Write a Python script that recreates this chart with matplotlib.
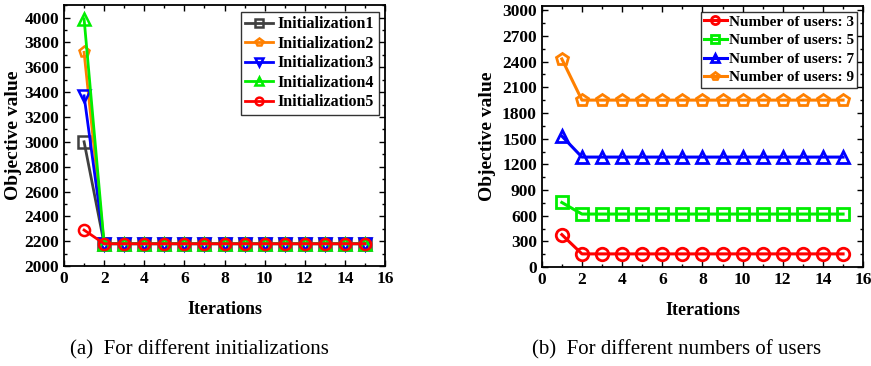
import matplotlib
matplotlib.use("Agg")
import matplotlib.pyplot as plt
from matplotlib.ticker import MultipleLocator

plt.rcParams['font.family'] = ['Liberation Serif', 'DejaVu Serif']

iters = list(range(1, 16))

init1 = [3000] + [2180] * 14
init2 = [3720] + [2180] * 14
init3 = [3370] + [2180] * 14
init4 = [3990] + [2180] * 14
init5 = [2290] + [2180] * 14
init_labels = ["Initialization1", "Initialization2", "Initialization3",
               "Initialization4", "Initialization5"]

users3 = [380] + [155] * 14
users5 = [755] + [620] * 14
users7 = [1530] + [1285] * 14
users9 = [2430] + [1950] * 14
user_labels = ["Number of users: 3", "Number of users: 5",
               "Number of users: 7", "Number of users: 9"]

fig = plt.figure(figsize=(8.71, 3.66), dpi=100)
axL = fig.add_axes([0.0735, 0.273, 0.3685, 0.713])
axR = fig.add_axes([0.622, 0.270, 0.369, 0.714])

bold = dict(fontweight='bold')

def style(ax):
    for s in ax.spines.values():
        s.set_linewidth(1.3)
    ax.tick_params(which='both', direction='in', top=True, right=True, width=1.0,
                   labelsize=12.5)
    ax.tick_params(which='major', length=4)
    ax.tick_params(which='minor', length=2.5)
    ax.xaxis.set_major_locator(MultipleLocator(2))
    ax.xaxis.set_minor_locator(MultipleLocator(1))
    ax.set_xlim(0, 16)
    fig.canvas.draw()
    for lab in ax.get_xticklabels() + ax.get_yticklabels():
        lab.set_fontweight('bold')

series_L = [
    (init1, '#404040', 's'),
    (init2, '#FF8000', 'p'),
    (init3, '#0000FF', 'v'),
    (init4, '#00EE00', '^'),
    (init5, '#FF0000', 'o'),
]
for (vals, c, m), lab in zip(series_L, init_labels):
    axL.plot(iters, vals, color=c, marker=m, markersize=8, markerfacecolor='none',
             markeredgewidth=1.8, linewidth=2, label=lab)
axL.set_ylim(2000, 4100)
axL.yaxis.set_major_locator(MultipleLocator(200))
axL.yaxis.set_minor_locator(MultipleLocator(100))
style(axL)
axL.set_ylabel("Objective value", fontsize=14, **bold, labelpad=2)
axL.set_xlabel("Iterations", fontsize=13, **bold, labelpad=10)
legL = axL.legend(loc='upper right', prop={'weight': 'bold', 'size': 11.5},
                  frameon=True, fancybox=False, edgecolor='black',
                  handlelength=1.7, labelspacing=0.22, borderpad=0.3,
                  handletextpad=0.3, borderaxespad=0.4, markerscale=0.7)
legL.get_frame().set_linewidth(1.0)

series_R = [
    (users3, '#FF0000', 'o'),
    (users5, '#00EE00', 's'),
    (users7, '#0000FF', '^'),
    (users9, '#FF8000', 'p'),
]
for (vals, c, m), lab in zip(series_R, user_labels):
    axR.plot(iters, vals, color=c, marker=m, markersize=9, markerfacecolor='none',
             markeredgewidth=2, linewidth=2.2, label=lab)
axR.set_ylim(0, 3050)
axR.yaxis.set_major_locator(MultipleLocator(300))
axR.yaxis.set_minor_locator(MultipleLocator(150))
style(axR)
axR.set_ylabel("Objective value", fontsize=14, **bold, labelpad=4)
axR.set_xlabel("Iterations", fontsize=13, **bold, labelpad=10)
legR = axR.legend(loc='upper right', prop={'weight': 'bold', 'size': 11},
                  frameon=True, fancybox=False, edgecolor='black',
                  handlelength=1.5, labelspacing=0.32, borderpad=0.2,
                  handletextpad=0.15, borderaxespad=0.4, markerscale=0.65)
legR.get_frame().set_linewidth(1.0)

fig.text(199 / 871, 1 - 350 / 366, "(a)  For different initializations",
         ha='center', va='center', fontsize=15)
fig.text(677 / 871, 1 - 350 / 366, "(b)  For different numbers of users",
         ha='center', va='center', fontsize=15)

fig.savefig("out.png", dpi=100)
